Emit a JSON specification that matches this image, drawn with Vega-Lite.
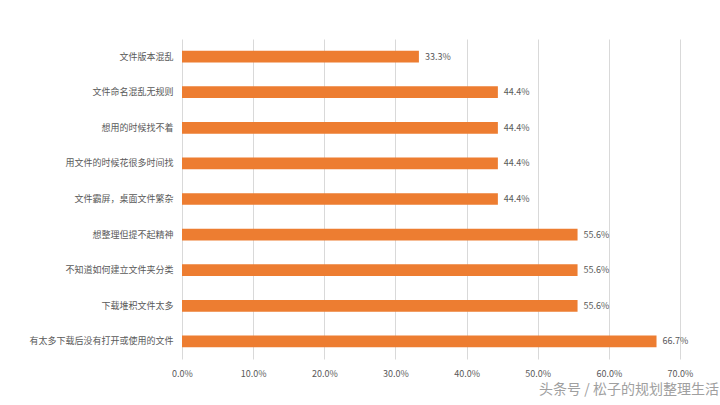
{
  "$schema": "https://vega.github.io/schema/vega-lite/v6.json",
  "autosize": "none",
  "width": 498,
  "height": 320,
  "padding": {"left": 182, "top": 39, "right": 40, "bottom": 46},
  "background": "white",
  "config": {"view": {"stroke": null}, "font": "Noto Sans CJK SC"},
  "title": {"text": "头条号 / 松子的规划整理生活", "orient": "bottom", "anchor": "end", "fontSize": 14, "fontWeight": "normal", "color": "#a0a0a0", "offset": 5, "dx": 26},
  "data": {"values": [
    {"item": "文件版本混乱", "pct": 0.333},
    {"item": "文件命名混乱无规则", "pct": 0.444},
    {"item": "想用的时候找不着", "pct": 0.444},
    {"item": "用文件的时候花很多时间找", "pct": 0.444},
    {"item": "文件霸屏，桌面文件繁杂", "pct": 0.444},
    {"item": "想整理但提不起精神", "pct": 0.556},
    {"item": "不知道如何建立文件夹分类", "pct": 0.556},
    {"item": "下载堆积文件太多", "pct": 0.556},
    {"item": "有太多下载后没有打开或使用的文件", "pct": 0.667}
  ]},
  "encoding": {
    "y": {"field": "item", "type": "nominal", "sort": null, "scale": {"paddingInner": 0.67, "paddingOuter": 0.33},
      "axis": {"title": null, "domain": false, "ticks": false, "labelFontSize": 9, "labelColor": "#595959", "labelPadding": 9, "labelLimit": 200}},
    "x": {"field": "pct", "type": "quantitative", "scale": {"domain": [0, 0.7], "nice": false},
      "axis": {"title": null, "format": ".1%", "values": [0, 0.1, 0.2, 0.3, 0.4, 0.5, 0.6, 0.7], "domain": false, "ticks": false, "labelFlush": false, "labelFontSize": 9, "labelColor": "#595959", "labelPadding": 10, "gridColor": "#d9d9d9", "gridWidth": 1}}
  },
  "layer": [
    {"mark": {"type": "bar", "color": "#ED7D31"}},
    {"mark": {"type": "text", "align": "left", "dx": 6, "fontSize": 9, "color": "#595959"},
      "encoding": {"text": {"field": "pct", "format": ".1%"}}}
  ]
}
